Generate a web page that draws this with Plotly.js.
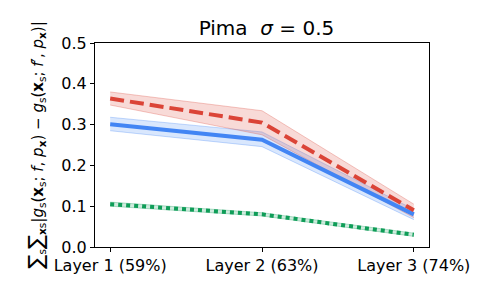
<!DOCTYPE html>
<html><head><meta charset="utf-8">
<script src="https://cdn.plot.ly/plotly-3.0.1.min.js"></script>
<style>html,body{margin:0;padding:0;background:#fff}</style>
</head><body><div id="chart" style="width:488px;height:293px"></div>
<script>
const categories = ["Layer 1 (59%)", "Layer 2 (63%)", "Layer 3 (74%)"];
const redMean  = [0.364, 0.305, 0.090];
const redLow   = [0.348, 0.275, 0.072];
const redHigh  = [0.380, 0.334, 0.105];
const blueMean = [0.301, 0.263, 0.080];
const blueLow  = [0.285, 0.246, 0.067];
const blueHigh = [0.318, 0.282, 0.092];
const greenMean = [0.105, 0.080, 0.030];
const greenLow  = [0.100, 0.076, 0.026];
const greenHigh = [0.110, 0.084, 0.034];
const yTicks = [0.0, 0.1, 0.2, 0.3, 0.4, 0.5];

const RED = "#DB4437", BLUE = "#4285F4", GREEN = "#0F9D58";
function band(lo, hi, rgb) {
  return [
    {x: categories, y: hi, mode: "lines", line: {width: 1, color: `rgba(${rgb},0.3)`}, hoverinfo: "skip", showlegend: false},
    {x: categories, y: lo, mode: "lines", line: {width: 1, color: `rgba(${rgb},0.3)`}, fill: "tonexty", fillcolor: `rgba(${rgb},0.2)`, hoverinfo: "skip", showlegend: false}
  ];
}
const traces = [
  ...band(greenLow, greenHigh, "15,157,88"),
  ...band(blueLow, blueHigh, "66,133,244"),
  ...band(redLow, redHigh, "219,68,55"),
  {x: categories, y: greenMean, mode: "lines", line: {color: GREEN, width: 4, dash: "4px,4px"}, showlegend: false},
  {x: categories, y: blueMean, mode: "lines", line: {color: BLUE, width: 4}, showlegend: false},
  {x: categories, y: redMean, mode: "lines", line: {color: RED, width: 4, dash: "14px,6px"}, showlegend: false}
];
const S = '<span style="font-size:21px">∑</span>';
const layout = {
  width: 488, height: 293,
  margin: {l: 95, r: 59, t: 43, b: 46},
  paper_bgcolor: "#fff", plot_bgcolor: "#fff",
  font: {family: "DejaVu Sans", color: "#000", size: 16},
  title: {text: "Pima  <i>σ</i> = 0.5", font: {size: 20, family: "DejaVu Sans"}, x: 0.546, xanchor: "center", y: 0.905, yanchor: "middle"},
  xaxis: {
    type: "category", range: [-0.1, 2.1], showgrid: false, zeroline: false,
    showline: true, linecolor: "#000", linewidth: 1, mirror: true,
    ticks: "outside", ticklen: 4, tickcolor: "#000", tickfont: {size: 16}
  },
  yaxis: {
    range: [0, 0.5], tickvals: yTicks, ticktext: yTicks.map(v => v.toFixed(1)),
    showgrid: false, zeroline: false,
    showline: true, linecolor: "#000", linewidth: 1, mirror: true,
    ticks: "outside", ticklen: 4, tickcolor: "#000", tickfont: {size: 16},
    title: {text: S + "<sub>s</sub>" + S + "<sub><b>x</b>s</sub>|<i>g</i><sub>s</sub>(<b>x</b><sub>s</sub>; <i>f</i>, <i>p</i><sub><b>x</b></sub>) − <i>g</i><sub>s</sub>(<b>x</b><sub>s</sub>; <i>f</i>′, <i>p</i><sub><b>x</b></sub>)|", font: {size: 15}, standoff: 14}
  }
};
Plotly.newPlot("chart", traces, layout, {displayModeBar: false, staticPlot: true});
</script></body></html>
